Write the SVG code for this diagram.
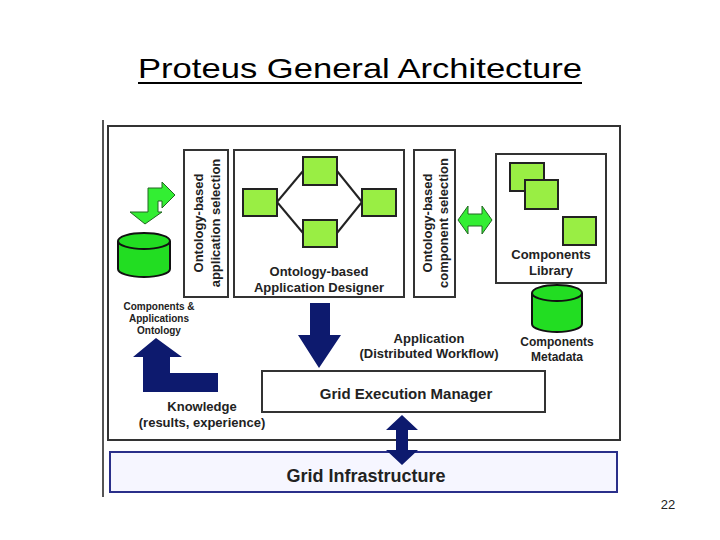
<svg xmlns="http://www.w3.org/2000/svg" width="720" height="540" viewBox="0 0 720 540">
<style>
text{font-family:"Liberation Sans",Arial,sans-serif;font-weight:bold;fill:#222}
.box{fill:#fff;stroke:#333;stroke-width:2}
.sq{fill:#99ee44;stroke:#222;stroke-width:2}
.cyl{fill:#22dd22;stroke:#111;stroke-width:2}
.navy{fill:#0d1a6e}
.ga{fill:#33ee33;stroke:#226622;stroke-width:1}
</style>
<rect width="720" height="540" fill="#fff"/>
<text x="138" y="78" font-size="28" textLength="444" lengthAdjust="spacingAndGlyphs" style="font-weight:normal;fill:#000">Proteus General Architecture</text>
<line x1="138" y1="83" x2="582" y2="83" stroke="#000" stroke-width="2"/>
<line x1="103" y1="120" x2="103" y2="497" stroke="#555" stroke-width="2"/>
<g id="outer"><rect x="108" y="126" width="512" height="314" class="box"/></g>
<g id="grid-infra"><rect x="110" y="452" width="507" height="40" fill="#f6f6ff" stroke="#2a2f8a" stroke-width="2"/>
<text x="366" y="482" text-anchor="middle" font-size="18">Grid Infrastructure</text></g>
<g id="app-selection"><rect x="184" y="150" width="44" height="147" class="box"/>
<text transform="translate(203,223) rotate(-90)" text-anchor="middle" font-size="13">Ontology-based</text>
<text transform="translate(220,223) rotate(-90)" text-anchor="middle" font-size="13">application selection</text></g>
<g id="designer"><rect x="234" y="150" width="170" height="147" class="box"/>
<text x="319" y="276" text-anchor="middle" font-size="13">Ontology-based</text>
<text x="319" y="292" text-anchor="middle" font-size="13">Application Designer</text>
<g stroke="#222" stroke-width="2"><line x1="277" y1="202" x2="303" y2="171"/><line x1="277" y1="202" x2="303" y2="233"/><line x1="337" y1="171" x2="362" y2="202"/><line x1="362" y1="202" x2="337" y2="233"/></g>
<rect x="243" y="189" width="34" height="27" class="sq"/><rect x="303" y="157" width="34" height="28" class="sq"/><rect x="303" y="220" width="34" height="27" class="sq"/><rect x="362" y="189" width="34" height="27" class="sq"/></g>
<g id="comp-selection"><rect x="414" y="150" width="41" height="147" class="box"/>
<text transform="translate(432,223) rotate(-90)" text-anchor="middle" font-size="13">Ontology-based</text>
<text transform="translate(448,223) rotate(-90)" text-anchor="middle" font-size="13">component selection</text></g>
<g id="library"><rect x="496" y="154" width="110" height="129" class="box"/>
<rect x="510" y="163" width="34" height="28" class="sq"/><rect x="525" y="180" width="33" height="29" class="sq"/><rect x="563" y="217" width="33" height="28" class="sq"/>
<text x="551" y="259" text-anchor="middle" font-size="13">Components</text>
<text x="551" y="275" text-anchor="middle" font-size="13">Library</text></g>
<g id="metadata"><path d="M532 293 V324 A25 8 0 0 0 582 324 V293" class="cyl"/><ellipse cx="557" cy="293" rx="25" ry="8" class="cyl"/>
<text x="557" y="346" text-anchor="middle" font-size="12">Components</text>
<text x="557" y="361" text-anchor="middle" font-size="12">Metadata</text></g>
<g id="ontology"><path d="M118 241 V269 A26 8 0 0 0 170 269 V241" class="cyl"/><ellipse cx="144" cy="241" rx="26" ry="8" class="cyl"/>
<text x="159" y="310" text-anchor="middle" font-size="10">Components &amp;</text>
<text x="159" y="322" text-anchor="middle" font-size="10">Applications</text>
<text x="159" y="334" text-anchor="middle" font-size="10">Ontology</text></g>
<g id="gem"><rect x="262" y="371" width="283" height="41" class="box"/>
<text x="406" y="399" text-anchor="middle" font-size="15">Grid Execution Manager</text></g>
<g id="connectors">
<polygon class="ga" points="148,188 162,188 162,182 175,195 162,208 162,201 158,201 158,212 162,212 145,224 130,212 148,212"/>
<polygon class="ga" points="458,220 468,206 468,214 482,214 482,206 492,220 482,234 482,226 468,226 468,234"/>
<polygon class="navy" points="310,303 330,303 330,335 341,335 319,368 298,335 310,335"/>
<polygon class="navy" points="156,338 182,357 170,357 170,373 218,373 218,392 143,392 143,357 133,357"/>
<polygon class="navy" points="402,415 418,430 408,430 408,450 418,450 402,465 386,450 396,450 396,430 386,430"/>
</g>
<text x="429" y="343" text-anchor="middle" font-size="13">Application</text>
<text x="429" y="358" text-anchor="middle" font-size="13">(Distributed Workflow)</text>
<text x="202" y="411" text-anchor="middle" font-size="13">Knowledge</text>
<text x="202" y="427" text-anchor="middle" font-size="13">(results, experience)</text>
<text x="668" y="509" text-anchor="middle" font-size="13" style="font-weight:normal">22</text>
</svg>
